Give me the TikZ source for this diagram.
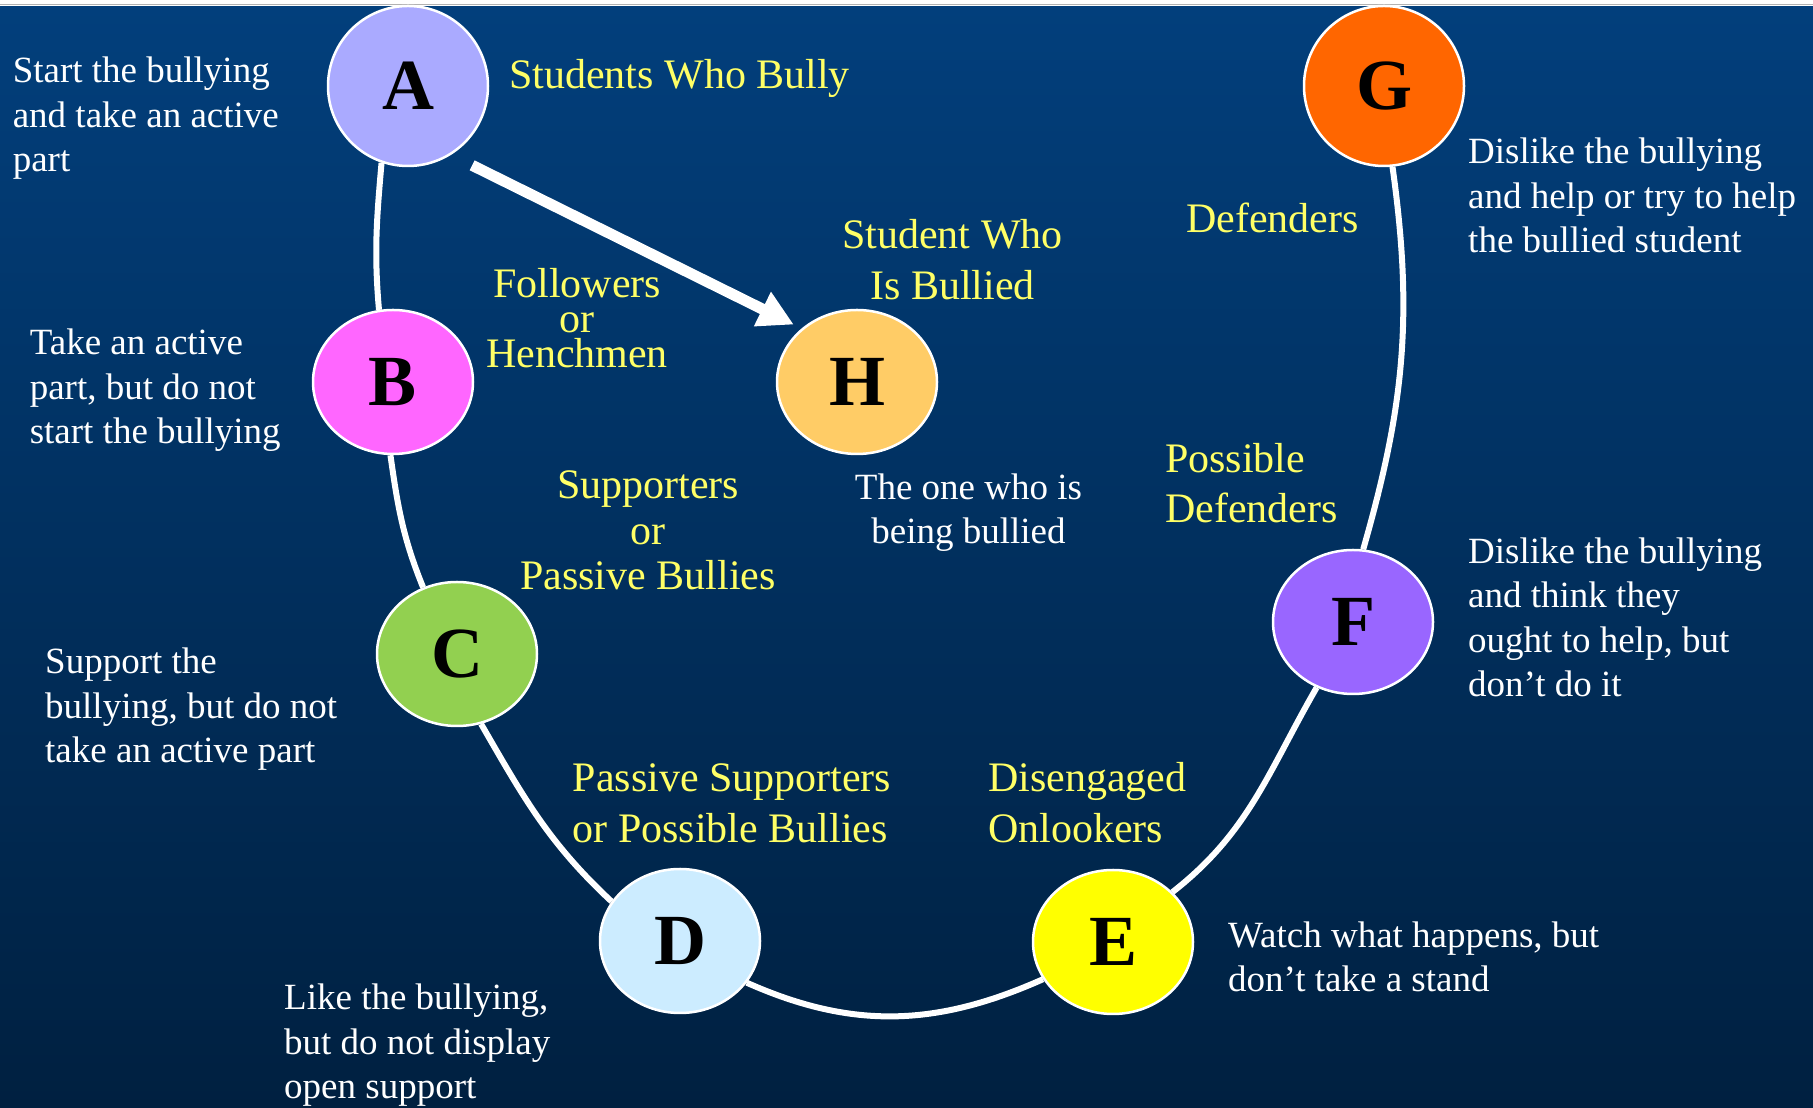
\documentclass[tikz,border=0pt]{standalone}
\usepackage{fontspec}
\setmainfont{Liberation Serif}
\usetikzlibrary{shapes.geometric,arrows.meta}

\definecolor{bgtop}{RGB}{2,63,124}
\definecolor{bgbottom}{RGB}{0,32,64}
\definecolor{rolename}{RGB}{255,255,102}
\definecolor{roleA}{RGB}{170,170,255}
\definecolor{roleB}{RGB}{255,102,255}
\definecolor{roleC}{RGB}{146,208,80}
\definecolor{roleD}{RGB}{204,236,255}
\definecolor{roleE}{RGB}{255,255,0}
\definecolor{roleF}{RGB}{153,102,255}
\definecolor{roleG}{RGB}{255,102,0}
\definecolor{roleH}{RGB}{255,204,102}

\begin{document}
\begin{tikzpicture}[x=1pt,y=1pt,
        student/.style={ellipse, draw=white, line width=2.5pt, inner sep=0pt,
            minimum width=160pt, minimum height=144pt,
            font=\fontsize{72}{72}\selectfont\bfseries},
        leadstudent/.style={student, minimum height=160pt},
        describe/.style={text=white, align=left, anchor=base west, inner sep=0pt,
            font=\fontsize{37}{44.5}\selectfont},
        groupname/.style={text=rolename, inner sep=0pt,
            font=\fontsize{42}{51}\selectfont},
        ring/.style={draw=white, line width=6pt},
        push/.style={draw=white, line width=11pt, -{Triangle[length=35pt,width=36pt]}}]
        \useasboundingbox (0,0) rectangle (1813,1108);
        \fill[top color=bgtop, bottom color=bgbottom] (0,0) rectangle (1813,1102);
        \fill[white] (0,1102) rectangle (1813,1108);
        \draw[gray!60, line width=1.5pt] (0,1103.5) -- (1813,1103.5);

        \node[leadstudent, fill=roleA] (A) at (408,1022) {A};
        \node[leadstudent, fill=roleG] (G) at (1384,1022) {G};
        \node[student, fill=roleB] (B) at (393,726) {B};
        \node[student, fill=roleH] (H) at (857,726) {H};
        \node[student, fill=roleC] (C) at (457,454) {C};
        \node[student, fill=roleF] (F) at (1353,486) {F};
        \node[student, fill=roleD] (D) at (680,167) {D};
        \node[student, fill=roleE] (E) at (1113,166) {E};

        \draw[ring] (A.251) to[out=-95,in=95] (B.101)
            (B.268) to[out=-82,in=112] (C.117)
            (C.289) to[out=-60,in=137] (D.150)
            (D.328) to[out=-24,in=-156] (E.208)
            (E.40) to[out=38,in=-120] (F.241)
            (F.82) to[out=74,in=-82] (G.276);
        \draw[push, shorten <=23.5pt, shorten >=8.7pt] (A.302.5) -- (H.136.6);

        \node[groupname, anchor=base west] (bully) at (509,1019) {Students Who Bully};
        \node[groupname, anchor=base, align=center] (bullied) at (952.5,808) {Student Who\\Is Bullied};
        \node[groupname, anchor=base, align=center, font=\fontsize{42}{35}\selectfont] (followers) at (577,740) {Followers\\or\\Henchmen};
        \node[groupname, anchor=base, align=center, font=\fontsize{42}{45.5}\selectfont] (supporters) at (648,518) {Supporters\\or\\Passive Bullies};
        \node[groupname, anchor=base west] (defenders) at (1186,875) {Defenders};
        \node[groupname, anchor=base west, align=left, font=\fontsize{42}{50}\selectfont] (possible) at (1165,585) {Possible\\Defenders};
        \node[groupname, anchor=base west, align=left] (passive) at (572.6,265) {Passive Supporters\\or Possible Bullies};
        \node[groupname, anchor=base west, align=left] (onlookers) at (988,265) {Disengaged\\Onlookers};

        \node[describe] (textA) at (12.6,936) {Start the bullying\\and take an active\\part};
        \node[describe] (textB) at (29.6,664) {Take an active\\part, but do not\\start the bullying};
        \node[describe] (textC) at (45,345) {Support the\\bullying, but do not\\take an active part};
        \node[describe] (textD) at (284,9) {Like the bullying,\\but do not display\\open support};
        \node[describe] (textE) at (1228,116) {Watch what happens, but\\don’t take a stand};
        \node[describe] (textF) at (1468,411) {Dislike the bullying\\and think they\\ought to help, but\\don’t do it};
        \node[describe] (textG) at (1468,855) {Dislike the bullying\\and help or try to help\\the bullied student};
        \node[describe, anchor=base, align=center] (textH) at (968.5,564) {The one who is\\being bullied};
    \end{tikzpicture}
\end{document}
